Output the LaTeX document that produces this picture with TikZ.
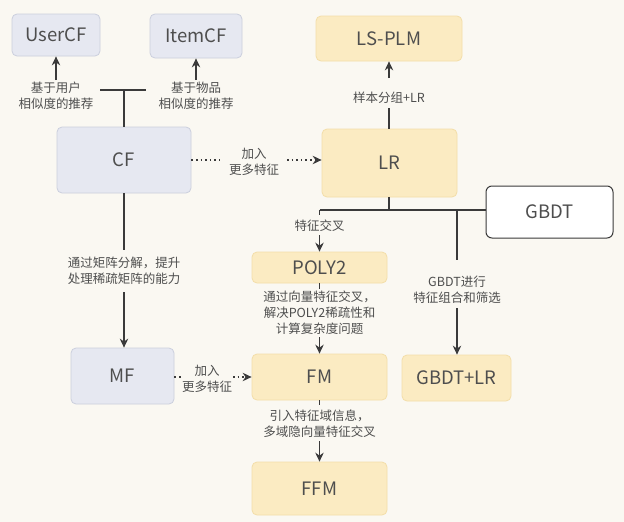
\documentclass[tikz,border=0pt]{standalone}
\usepackage{fontspec}
\setmainfont{Noto Sans CJK SC}
\usetikzlibrary{arrows.meta}
\definecolor{bg}{HTML}{FAF8F2}
\definecolor{bluefill}{HTML}{E6E8F1}
\definecolor{blueline}{HTML}{CBCFDD}
\definecolor{yelfill}{HTML}{FBEBC2}
\definecolor{yelline}{HTML}{F3DEA9}
\definecolor{ink}{HTML}{3A3A3A}
\definecolor{txt}{HTML}{4E4E4E}
\begin{document}
\begin{tikzpicture}[x=1pt,y=-1pt,
  box/.style={rounded corners=5pt, line width=0.8pt, inner sep=0pt, text=txt,
    font=\fontsize{18.5}{22}\selectfont},
  bluebox/.style={box, fill=bluefill, draw=blueline},
  yelbox/.style={box, fill=yelfill, draw=yelline},
  whitebox/.style={box, fill=white, draw=ink, line width=1pt, rounded corners=6pt},
  lbl/.style={align=center, text=txt, inner sep=0pt, font=\fontsize{12.5}{16}\selectfont},
  ln/.style={draw=ink, line width=1.1pt},
  arr/.style={ln, -{Stealth[length=9pt,width=8.5pt,inset=3pt]}},
  dotln/.style={ln, dash pattern=on 1.6pt off 3pt},
  dotarr/.style={dotln, -{Stealth[length=9pt,width=8.5pt,inset=3pt]}}]
\useasboundingbox (0,0) rectangle (624,522);
\fill[bg] (0,0) rectangle (624,522);

% boxes
\node[bluebox, minimum width=88pt, minimum height=42pt] (UserCF) at (56,35) {UserCF};
\node[bluebox, minimum width=92pt, minimum height=44pt] (ItemCF) at (196,36) {ItemCF};
\node[yelbox, minimum width=146pt, minimum height=45pt] (LSPLM) at (389,38.5) {LS-PLM};
\node[bluebox, minimum width=134pt, minimum height=66pt] (CF) at (124,160) {CF};
\node[yelbox, minimum width=135pt, minimum height=68pt] (LR) at (389.5,163) {LR};
\node[whitebox, minimum width=127pt, minimum height=52pt] (GBDT) at (549.5,212) {GBDT};
\node[yelbox, minimum width=135pt, minimum height=31pt] (POLY2) at (319.5,267.5) {POLY2};
\node[bluebox, minimum width=103pt, minimum height=56pt] (MF) at (122.5,376) {MF};
\node[yelbox, minimum width=135pt, minimum height=46pt] (FM) at (319.5,377) {FM};
\node[yelbox, minimum width=109pt, minimum height=46pt] (GBDTLR) at (456.5,378) {GBDT+LR};
\node[yelbox, minimum width=135pt, minimum height=53pt] (FFM) at (319.5,488.5) {FFM};

% labels
\node[lbl] (lu) at (56,96) {基于用户\\相似度的推荐};
\node[lbl] (li) at (196,96) {基于物品\\相似度的推荐};
\node[lbl] (lls) at (389,98) {样本分组+LR};
\node[lbl] (lab1) at (254,162) {加入\\更多特征};
\node[lbl] (lcross) at (319.5,226) {特征交叉};
\node[lbl] (lg) at (457,290) {GBDT进行\\特征组合和筛选};
\node[lbl] (lcm) at (124,271) {通过矩阵分解，提升\\处理稀疏矩阵的能力};
\node[lbl] (lp) at (319.5,313) {通过向量特征交叉，\\解决POLY2稀疏性和\\计算复杂度问题};
\node[lbl] (lf) at (319.5,424) {引入特征域信息，\\多域隐向量特征交叉};
\node[lbl] (lab2) at (207,379) {加入\\更多特征};

% helper coordinates
\coordinate (tm) at (124,90);
\coordinate (tl) at (100,90);
\coordinate (tr) at (146,90);
\coordinate (ua) at (56,80);
\coordinate (ia) at (196,80);
\coordinate (c1a) at (220,160);
\coordinate (c1b) at (287,160);
\coordinate (lsa) at (389,108);
\coordinate (lsb) at (389,78);
\coordinate (jn) at (389,210);
\coordinate (jl) at (319.5,210);
\coordinate (jg) at (457,210);
\coordinate (cxa) at (319.5,215);
\coordinate (cxb) at (319.5,235);
\coordinate (ga) at (457,260);
\coordinate (gb) at (457,308);
\coordinate (pa) at (319.5,289);
\coordinate (pb) at (319.5,337);
\coordinate (fa) at (319.5,405);
\coordinate (fb) at (319.5,441);
\coordinate (ma) at (124,250);
\coordinate (mb) at (124,292);
\coordinate (m2a) at (181,377);
\coordinate (m2b) at (233,377);

% connectors
\draw[ln] (CF.north) -- (tm);
\draw[ln] (tl) -- (tr);
\draw[arr] (ua) -- (UserCF.south);
\draw[arr] (ia) -- (ItemCF.south);
\draw[dotln] (CF.east |- c1a) -- (c1a);
\draw[dotarr] (c1b) -- (LR.west |- c1b);
\draw[ln] (LR.north -| lsa) -- (lsa);
\draw[arr] (lsb) -- (LSPLM.south -| lsb);
\draw[ln] (LR.south -| jn) -- (jn);
\draw[ln] (jl) -- (jl -| GBDT.west);
\draw[ln] (jl) -- (cxa);
\draw[arr] (cxb) -- (POLY2.north);
\draw[ln] (jg) -- (ga);
\draw[arr] (gb) -- (GBDTLR.north -| gb);
\draw[ln] (POLY2.south) -- (pa);
\draw[arr] (pb) -- (FM.north);
\draw[ln] (FM.south) -- (fa);
\draw[arr] (fb) -- (FFM.north);
\draw[ln] (CF.south) -- (ma);
\draw[arr] (mb) -- (MF.north -| mb);
\draw[dotln] (MF.east |- m2a) -- (m2a);
\draw[dotarr] (m2b) -- (FM.west |- m2b);
\end{tikzpicture}
\end{document}
